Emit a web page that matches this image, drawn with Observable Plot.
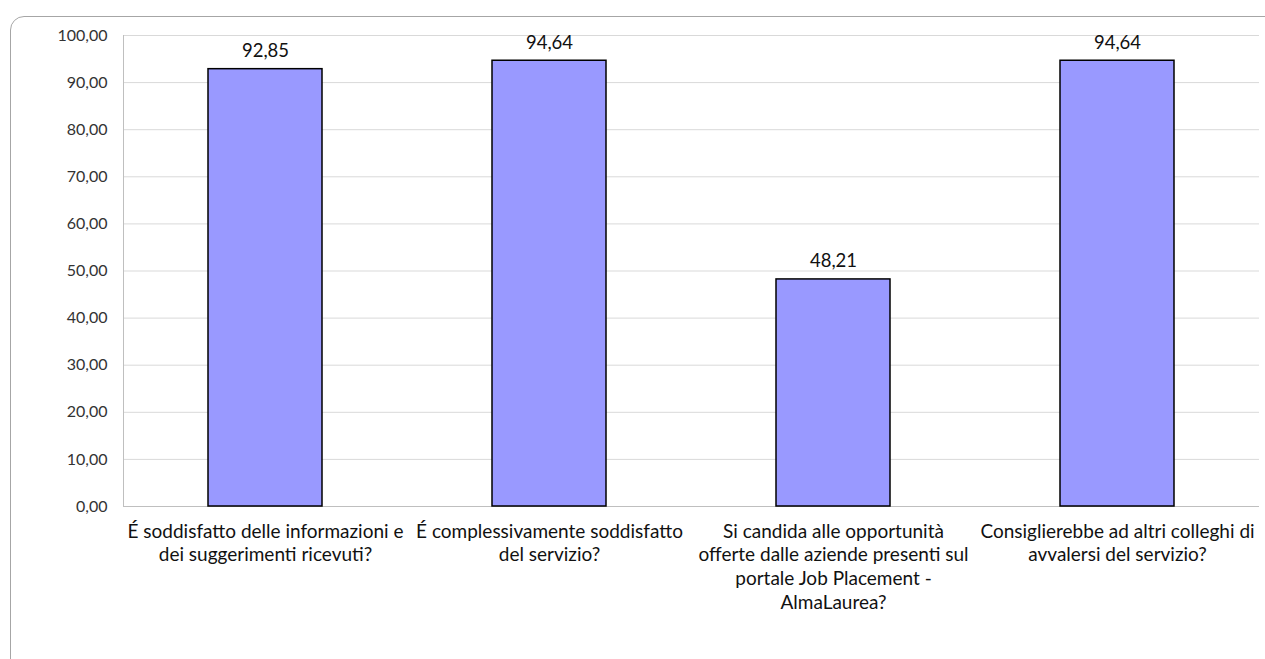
<!DOCTYPE html>
<html>
<head>
<meta charset="utf-8">
<script src="https://cdn.jsdelivr.net/npm/d3@7"></script>
<script src="https://cdn.jsdelivr.net/npm/@observablehq/plot@0.6"></script>
<style>
  html, body { margin: 0; padding: 0; background: #fff; }
  body { width: 1265px; height: 659px; position: relative; overflow: hidden; font-family: Lato, "Open Sans", sans-serif; }
  #card { position: absolute; left: 10px; top: 16px; width: 1300px; height: 700px; border: 1px solid #a6a6a6; border-radius: 14px; box-sizing: border-box; }
  #chart { position: absolute; left: 0; top: 0; }
</style>
</head>
<body>
<div id="card"></div>
<div id="chart"></div>
<script>
const categories = [
  "É soddisfatto delle informazioni e dei suggerimenti ricevuti?",
  "É complessivamente soddisfatto del servizio?",
  "Si candida alle opportunità offerte dalle aziende presenti sul portale Job Placement - AlmaLaurea?",
  "Consiglierebbe ad altri colleghi di avvalersi del servizio?"
];
const categoryLines = [
  ["É soddisfatto delle informazioni e", "dei suggerimenti ricevuti?"],
  ["É complessivamente soddisfatto", "del servizio?"],
  ["Si candida alle opportunità", "offerte dalle aziende presenti sul", "portale Job Placement -", "AlmaLaurea?"],
  ["Consiglierebbe ad altri colleghi di", "avvalersi del servizio?"]
];
const values = [92.85, 94.64, 48.21, 94.64];
const yTicks = [0, 10, 20, 30, 40, 50, 60, 70, 80, 90, 100];

const data = categories.map((c, i) => ({category: c, value: values[i], label: categoryLines[i].join("\n")}));
const fmt = v => v.toFixed(2).replace(".", ",");

const chart = Plot.plot({
  width: 1265,
  height: 659,
  marginLeft: 123,
  marginRight: 6,
  marginTop: 35,
  marginBottom: 153,
  style: {fontFamily: "Lato, 'Open Sans', sans-serif", background: "transparent", overflow: "visible"},
  x: {domain: categories, paddingInner: 0.6, paddingOuter: 0.3, axis: null},
  y: {domain: [0, 100], ticks: yTicks, axis: null},
  marks: [
    Plot.ruleY(yTicks.slice(1), {stroke: "#d9d9d9", strokeWidth: 1}),
    Plot.ruleY([0], {stroke: "#bfbfbf", strokeWidth: 1}),
    Plot.frame({anchor: "left", stroke: "#bfbfbf"}),
    Plot.axisY({ticks: yTicks, tickSize: 0, tickPadding: 16, tickFormat: fmt, fontSize: 16, color: "#333", label: null}),
    Plot.barY(data, {x: "category", y: "value", fill: "#9999ff", stroke: "#000", strokeWidth: 1.5}),
    Plot.text(data, {x: "category", y: "value", text: d => fmt(d.value), dy: -12, lineAnchor: "bottom", fontSize: 18.5, fill: "#111"}),
    Plot.text(data, {x: "category", y: 0, text: "label", lineAnchor: "top", dy: 14, fontSize: 19, lineHeight: 1.26, fill: "#111"})
  ]
});
document.getElementById("chart").appendChild(chart);
</script>
</body>
</html>
